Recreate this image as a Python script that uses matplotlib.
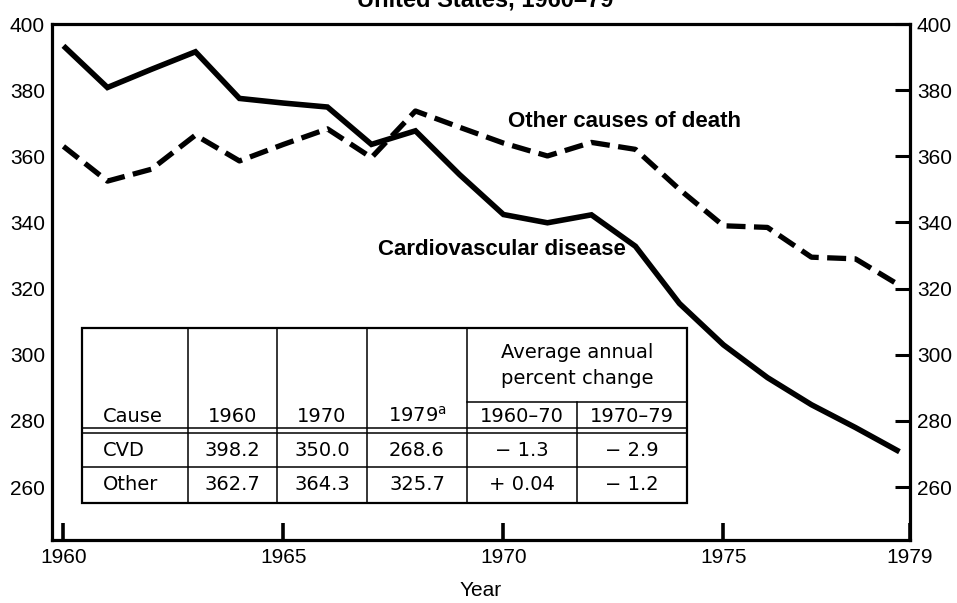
import matplotlib
matplotlib.use("Agg")
import matplotlib.pyplot as plt
from matplotlib.lines import Line2D
from matplotlib.transforms import Affine2D

# Data #
years = list(range(1960, 1980))
cvd   = [393.4, 380.8, 386.3, 391.6, 377.5, 376.1, 374.9, 363.6, 367.7, 354.5,
         342.4, 339.9, 342.3, 332.8, 315.5, 303.0, 293.1, 284.9, 278.0, 270.7]
other = [363.0, 352.5, 356.1, 366.4, 358.6, 363.6, 368.3, 359.6, 373.7, 368.8,
         364.0, 360.1, 364.2, 362.1, 350.0, 339.0, 338.5, 329.5, 329.0, 321.0]

x_ticks       = [1960, 1965, 1970, 1975]
x_tick_labels = ["1960", "1965", "1970", "1975", "1979"]
y_ticks       = [260, 280, 300, 320, 340, 360, 380, 400]

# Inset table #
tbl_causes   = ["CVD", "Other"]
tbl_years    = ["1960", "1970", "1979$^{\\rm a}$"]
rate_1960    = [398.2, 362.7]
rate_1970    = [350.0, 364.3]
rate_1979    = [268.6, 325.7]
pct_1960_70  = [-1.3, 0.04]
pct_1970_79  = [-2.9, -1.2]
pct_periods  = ["1960\u201370", "1970\u201379"]

W, H = 957, 603
plt.rcParams["font.family"] = ["Liberation Sans", "DejaVu Sans"]

fig = plt.figure(figsize=(W / 100, H / 100), dpi=100)
ax = fig.add_axes([52 / W, (H - 540) / H, 858 / W, 516 / H])

ax.plot(years, cvd, color="black", lw=4.0, solid_joinstyle="miter",
        solid_capstyle="butt")
ax.plot(years, other, color="black", lw=3.8, dashes=(3.6, 1.6),
        dash_capstyle="butt")

x0, x1 = 1959.74, 1979.24
ax.set_xlim(x0, x1)
ax.set_ylim(244, 400)

ax.set_xticks(x_ticks + [x1])
ax.set_xticklabels(x_tick_labels, fontsize=15)
ax.set_yticks(y_ticks)
ax.set_yticklabels([str(v) for v in y_ticks], fontsize=15)
ax.tick_params(axis="x", direction="in", length=12, width=2.6, pad=6)
ax.tick_params(axis="y", left=False, right=True, labelright=True,
               direction="in", length=11, width=2.2, pad=5)
for s in ax.spines.values():
    s.set_linewidth(2.3)

ax.set_xlabel("Year", fontsize=15, labelpad=10)

# Line labels #
ax.text(1972.74, 370.6, "Other causes of death", fontsize=16, fontweight="bold",
        ha="center", va="center")
ax.text(1969.97, 331.8, "Cardiovascular disease", fontsize=16,
        fontweight="bold", ha="center", va="center")

# Title (partly cut off at the top, as in the scan) #
fig.text(485 / W, 1 - 7 / H, "United States, 1960\u201379", fontsize=17,
         fontweight="bold", ha="center", va="baseline")

# Table, laid out in pixel coordinates #
pix = Affine2D().scale(1 / W, -1 / H).translate(0, 1) + fig.transFigure
cols = [82, 188, 277, 367, 467, 577, 687]
top, sub, dbl1, dbl2, mid, bot = 328, 402, 428, 433, 467, 503

fig.add_artist(plt.Rectangle((cols[0], top), cols[-1] - cols[0], bot - top,
                             transform=pix, facecolor="white",
                             edgecolor="black", lw=1.6, zorder=5))


def hline(y, xa, xb, lw=1.1):
    fig.add_artist(Line2D([xa, xb], [y, y], color="black", lw=lw,
                          transform=pix, zorder=6))


def vline(x, ya, yb, lw=1.1):
    fig.add_artist(Line2D([x, x], [ya, yb], color="black", lw=lw,
                          transform=pix, zorder=6))


hline(sub, cols[4], cols[6])
hline(dbl1, cols[0], cols[6])
hline(dbl2, cols[0], cols[6])
hline(mid, cols[0], cols[6])
for c in cols[1:5]:
    vline(c, top, bot)
vline(cols[5], sub, bot)

tfont = dict(family="DejaVu Sans", fontsize=14, zorder=7, transform=pix)
centers = [(cols[i] + cols[i + 1]) / 2 for i in range(len(cols) - 1)]
hdr_y, row_y = 416, [450, 485]

fig.text(103, hdr_y, "Cause", ha="left", va="center", **tfont)
for i, lab in enumerate(tbl_years):
    fig.text(centers[i + 1], hdr_y, lab, ha="center", va="center", **tfont)
fig.text((cols[4] + cols[6]) / 2, 353, "Average annual", ha="center",
         va="center", **tfont)
fig.text((cols[4] + cols[6]) / 2, 378, "percent change", ha="center",
         va="center", **tfont)
for i, lab in enumerate(pct_periods):
    fig.text(centers[i + 4], hdr_y, lab, ha="center", va="center", **tfont)


def fmt_pct(v):
    return ("\u2212 " if v < 0 else "+ ") + f"{abs(v):g}"


for r, cause in enumerate(tbl_causes):
    y = row_y[r]
    fig.text(103, y, cause, ha="left", va="center", **tfont)
    cells = [f"{rate_1960[r]:.1f}", f"{rate_1970[r]:.1f}", f"{rate_1979[r]:.1f}",
             fmt_pct(pct_1960_70[r]), fmt_pct(pct_1970_79[r])]
    for i, txt in enumerate(cells):
        fig.text(centers[i + 1], y, txt, ha="center", va="center", **tfont)

fig.savefig("out.png", dpi=100)
